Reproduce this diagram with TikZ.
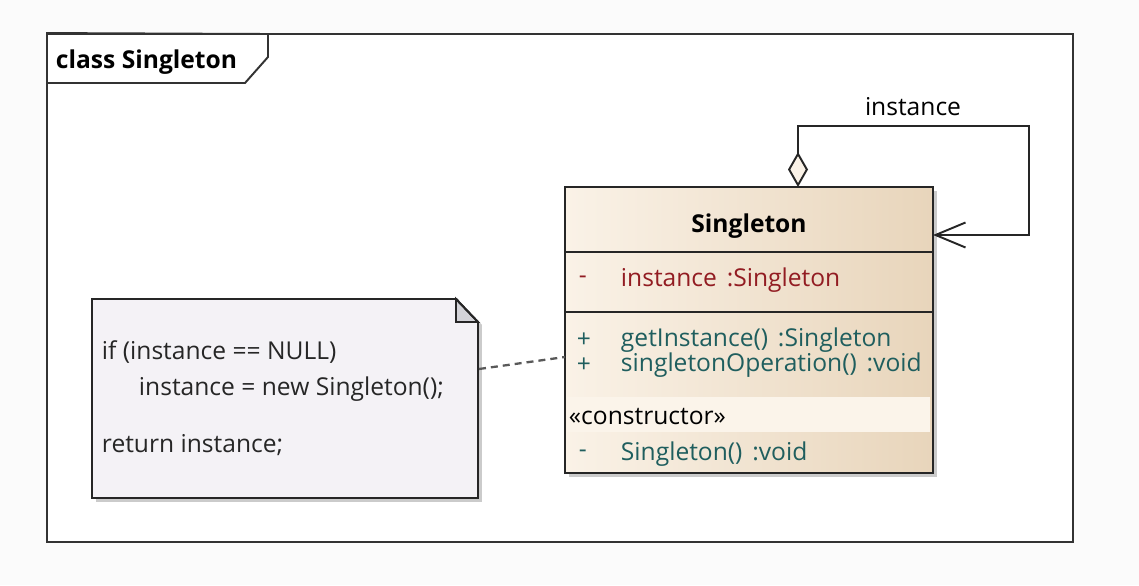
\documentclass[tikz,border=0pt]{standalone}
\usepackage{fontspec}
\setmainfont{Open Sans}
\usepackage{xcolor}
\usepackage{tikz}
\usetikzlibrary{arrows.meta, positioning, calc, fit, shadows}

\definecolor{pagebg}{HTML}{FBFBFB}
\definecolor{clsleft}{HTML}{FAF2E7}
\definecolor{clsright}{HTML}{E8D5BB}
\definecolor{ctorband}{HTML}{FBF4EA}
\definecolor{attrred}{HTML}{921C22}
\definecolor{opteal}{HTML}{1F5E5E}
\definecolor{notefill}{HTML}{F4F2F6}
\definecolor{foldgray}{HTML}{D3D3D8}

\begin{document}
\begin{tikzpicture}[
      x=0.02cm, y=-0.02cm,
      font=\fontsize{14}{16}\selectfont,
      line width=1.1pt,
      framebox/.style={
          draw=black!80,
          fill=white,
          inner sep=0pt
      },
      classbox/.style={
          draw=black!85,
          left color=clsleft,
          right color=clsright,
          inner sep=0pt,
          drop shadow={shadow xshift=2.5pt, shadow yshift=-2.5pt, fill=black!40, opacity=0.5}
      },
      notebox/.style={
          draw=black!85,
          fill=notefill,
          inner sep=0pt,
          drop shadow={shadow xshift=2.5pt, shadow yshift=-2.5pt, fill=black!40, opacity=0.5}
      },
      part/.style={inner sep=0pt},
      member/.style={anchor=west, inner sep=0pt},
      attrtext/.style={member, text=attrred},
      optext/.style={member, text=opteal},
      notetext/.style={anchor=west, inner sep=0pt, text=black!85},
      aggregation/.style={
          draw=black!85,
          {Diamond[open, fill=clsleft, length=0.7cm, width=0.4cm]}-{Straight Barb[length=0.6cm, width=0.5cm]}
      },
      notelink/.style={draw=black!65, line width=1.3pt, dash pattern=on 0.14cm off 0.1cm}
  ]
      \useasboundingbox (0,0) rectangle (1139,585);
      \fill[pagebg] (0,0) rectangle (1139,585);

      % --- Frame ---
      \node[framebox, fit={(47,34) (1073,542)}] (frame) {};
      \draw[black!80] (frame.north west) -- (268,34) -- (268,57) -- (245,83) -- (47,83);
      \node[anchor=west, inner sep=0pt, font=\fontsize{14}{16}\selectfont\bfseries] (title) at (55,62) {class Singleton};

      % --- Class ---
      \node[classbox, fit={(565,187) (933,473)}] (cls) {};
      \node[part, fit={(565,187) (933,251)}] (clsname) {};
      \node[part, fit={(565,251) (933,311)}] (clsattr) {};
      \node[part, fit={(565,311) (933,473)}] (clsops) {};
      \node[font=\fontsize{14}{16}\selectfont\bfseries] (clstitle) at ($(clsname.center)+(0,7)$) {Singleton};
      \fill[ctorband] (567,397) rectangle (930,432);
      \draw[black!85] (clsname.south west) -- (clsname.south east);
      \draw[black!85] (clsattr.south west) -- (clsattr.south east);

      % --- Members ---
      \node[attrtext] (vis1) at (578,280) {-};
      \node[attrtext] (attr1) at (620,280) {instance\hspace{0.4em}:Singleton};
      \node[optext] (vis2) at (576,340) {+};
      \node[optext] (op1) at (620,340) {getInstance()\hspace{0.4em}:Singleton};
      \node[optext] (vis3) at (576,365) {+};
      \node[optext] (op2) at (620,365) {singletonOperation()\hspace{0.4em}:void};
      \node[member] (stereo) at (568,417) {«constructor»};
      \node[optext] (vis4) at (578,454) {-};
      \node[optext] (op3) at (620,454) {Singleton()\hspace{0.4em}:void};

      % --- Note ---
      \node[notebox, fit={(92,299) (478,498)}] (note) {};
      \fill[white] (455,296) -- (487,296) -- (487,330) -- cycle;
      \filldraw[draw=black!85, fill=foldgray] (456,299) -- (456,322) -- (478,322) -- cycle;
      \draw[black!85] (456,299) -- (478,322);
      \node[notetext] (line1) at (101,352) {if (instance == NULL)};
      \node[notetext] (line2) at (138,389) {instance = new Singleton();};
      \node[notetext] (line3) at (101,445) {return instance;};

      % --- Connections ---
      \coordinate (selfout) at (798,187);
      \coordinate (selfturn) at (1029,126);
      \coordinate (selfin) at (933,235);
      \coordinate (notepin) at (479,369);
      \coordinate (clspin) at (565,357);
      \draw[aggregation] (selfout) |- (selfturn) |- (selfin);
      \node (selflbl) at (913,107) {instance};
      \draw[notelink] (notepin) -- (clspin);

  \end{tikzpicture}
\end{document}
